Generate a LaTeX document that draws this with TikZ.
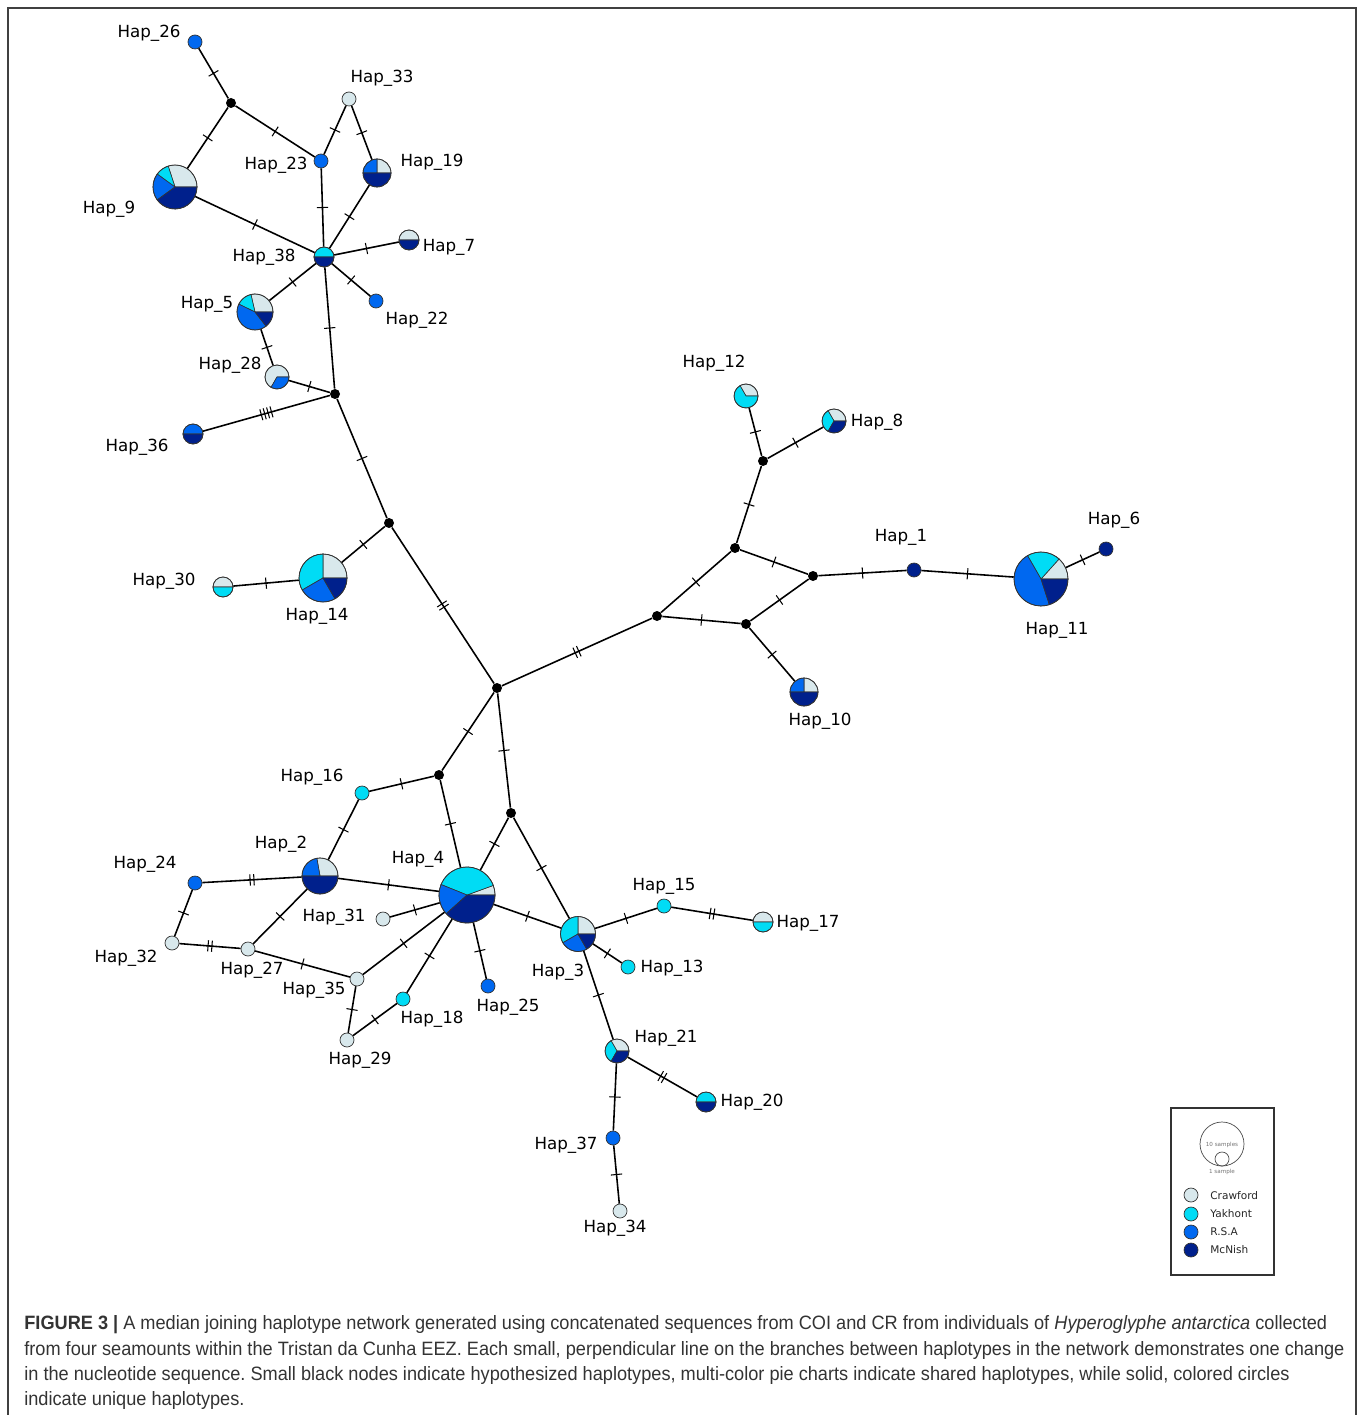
\documentclass[tikz,border=0pt]{standalone}
\usepackage{fontspec}
\setmainfont{DejaVu Sans}
\newfontfamily\capfont[FakeStretch=0.94]{Liberation Sans}
\frenchspacing

\definecolor{crawford}{RGB}{216,232,236}
\definecolor{yakhont}{RGB}{0,220,245}
\definecolor{rsa}{RGB}{0,104,240}
\definecolor{mcnish}{RGB}{0,32,140}
\definecolor{capgray}{RGB}{51,51,51}

% one mutation = one small bar across the branch
\newcommand{\mutbar}{\rule[-3.2pt]{0.6pt}{6.4pt}}
\newcommand{\mutbartwo}{\mutbar\kern1.6pt\mutbar}
\newcommand{\mutbarfour}{\mutbar\kern1.4pt\mutbar\kern1.4pt\mutbar\kern1.4pt\mutbar}

% slice: centre, radius (pt), start, end, colour
\newcommand{\hapslice}[5]{%
  \ifdim #3pt<#4pt
    \filldraw[fill=#5,draw=black!80,line width=0.35pt] (#1) -- ++(#3:#2pt)
      arc[start angle=#3,end angle=#4,radius=#2pt] -- cycle;
  \fi}
% pie: name, centre, radius (px), Crawford|Yakhont|R.S.A|McNish borders
\newcommand{\piehap}[6]{%
  \pgfmathsetmacro\pierad{#3*0.569055}%
  \pgfmathsetmacro\piedia{2*#3*0.569055}%
  \hapslice{#2}{\pierad}{0}{#4}{crawford}%
  \hapslice{#2}{\pierad}{#4}{#5}{yakhont}%
  \hapslice{#2}{\pierad}{#5}{#6}{rsa}%
  \hapslice{#2}{\pierad}{#6}{360}{mcnish}%
  \node[hapring,minimum size=\piedia pt] (#1) at (#2) {};}

\tikzset{
  hapring/.style={circle,draw=black!80,line width=0.4pt,inner sep=0pt},
  single/.style={circle,draw=black!80,line width=0.4pt,fill=#1,inner sep=0pt,minimum size=0.28cm},
  med/.style={circle,fill=black,inner sep=0pt,minimum size=0.2cm},
  hlabel/.style={font=\fontsize{9.5}{11}\selectfont,inner sep=0pt},
  mut/.style={sloped,inner sep=0pt},
  branch/.style={line width=0.9pt},
  capline/.style={anchor=base west,inner sep=0pt,text=capgray,font=\capfont\fontsize{11}{13}\selectfont},
  keytext/.style={anchor=west,inner sep=0pt,font=\fontsize{6}{7}\selectfont,text=black!85}
}

\begin{document}
\begin{tikzpicture}[x=0.02cm,y=-0.02cm]
  \useasboundingbox (0,0) rectangle (1358,1415);
  \draw[black!75,line width=0.8pt] (8,1415) -- (8,8) -- (1356,8) -- (1356,1415);

  % median vectors
  \node[med] (mv1) at (231,103) {};
  \node[med] (mv2) at (335,394) {};
  \node[med] (mv3) at (389,523) {};
  \node[med] (mv4) at (497,688) {};
  \node[med] (mv5) at (657,616) {};
  \node[med] (mv6) at (735,548) {};
  \node[med] (mv7) at (763,461) {};
  \node[med] (mv8) at (813,576) {};
  \node[med] (mv9) at (746,624) {};
  \node[med] (mv10) at (439,775) {};
  \node[med] (mv11) at (511,813) {};

  % shared haplotypes
  \piehap{h9}{175,187}{22}{108}{144}{216}
  \piehap{h19}{377,173}{14}{90}{90}{180}
  \piehap{h38}{324,257}{10}{0}{180}{180}
  \piehap{h7}{409,240}{10}{180}{180}{180}
  \piehap{h5}{255,312}{18}{103}{154}{308}
  \piehap{h28}{277,377}{12}{240}{240}{360}
  \piehap{h36}{193,434}{10}{0}{0}{180}
  \piehap{h30}{223,587}{10}{180}{360}{360}
  \piehap{h14}{323,578}{24}{90}{210}{300}
  \piehap{h12}{746,396}{12}{120}{360}{360}
  \piehap{h8}{834,421}{12}{120}{240}{240}
  \piehap{h10}{804,692}{14}{90}{90}{180}
  \piehap{h11}{1041,579}{27}{48}{120}{288}
  \piehap{h2}{320,876}{18}{100}{100}{180}
  \piehap{h4}{467,895}{28}{20}{158}{222}
  \piehap{h3}{578,934}{17.5}{90}{210}{300}
  \piehap{h17}{763,922}{10}{180}{360}{360}
  \piehap{h21}{617,1051}{12}{120}{240}{240}
  \piehap{h20}{706,1102}{10}{0}{180}{180}

  % unique haplotypes
  \node[single=rsa] (h26) at (195,42) {};
  \node[single=crawford] (h33) at (349,99) {};
  \node[single=rsa] (h23) at (321,161) {};
  \node[single=rsa] (h22) at (376,301) {};
  \node[single=mcnish] (h1) at (914,570) {};
  \node[single=mcnish] (h6) at (1106,549) {};
  \node[single=yakhont] (h16) at (362,793) {};
  \node[single=rsa] (h24) at (195,883) {};
  \node[single=crawford] (h32) at (172,943) {};
  \node[single=crawford] (h27) at (248,949) {};
  \node[single=crawford] (h35) at (357,979) {};
  \node[single=crawford] (h29) at (347,1040) {};
  \node[single=yakhont] (h18) at (403,999) {};
  \node[single=crawford] (h31) at (383,919) {};
  \node[single=rsa] (h25) at (488,986) {};
  \node[single=yakhont] (h15) at (664,906) {};
  \node[single=yakhont] (h13) at (628,967) {};
  \node[single=rsa] (h37) at (613,1138) {};
  \node[single=crawford] (h34) at (620,1211) {};

  % branches
  \begin{scope}[branch]
    \draw (h26) -- node[mut]{\mutbar} (mv1);
    \draw (mv1) -- node[mut]{\mutbar} (h9);
    \draw (mv1) -- node[mut]{\mutbar} (h23);
    \draw (h33) -- node[mut]{\mutbar} (h23);
    \draw (h33) -- node[mut]{\mutbar} (h19);
    \draw (h23) -- node[mut]{\mutbar} (h38);
    \draw (h19) -- node[mut]{\mutbar} (h38);
    \draw (h9) -- node[mut]{\mutbar} (h38);
    \draw (h7) -- node[mut]{\mutbar} (h38);
    \draw (h22) -- node[mut]{\mutbar} (h38);
    \draw (h5) -- node[mut]{\mutbar} (h38);
    \draw (h38) -- node[mut]{\mutbar} (mv2);
    \draw (h5) -- node[mut]{\mutbar} (h28);
    \draw (h28) -- node[mut]{\mutbar} (mv2);
    \draw (h36) -- node[mut]{\mutbarfour} (mv2);
    \draw (mv2) -- node[mut]{\mutbar} (mv3);
    \draw (mv3) -- node[mut]{\mutbar} (h14);
    \draw (h14) -- node[mut]{\mutbar} (h30);
    \draw (mv3) -- node[mut]{\mutbartwo} (mv4);
    \draw (mv4) -- node[mut]{\mutbartwo} (mv5);
    \draw (mv5) -- node[mut]{\mutbar} (mv6);
    \draw (mv5) -- node[mut]{\mutbar} (mv9);
    \draw (mv6) -- node[mut]{\mutbar} (mv7);
    \draw (mv7) -- node[mut]{\mutbar} (h12);
    \draw (mv7) -- node[mut]{\mutbar} (h8);
    \draw (mv6) -- node[mut]{\mutbar} (mv8);
    \draw (mv9) -- node[mut]{\mutbar} (mv8);
    \draw (mv9) -- node[mut]{\mutbar} (h10);
    \draw (mv8) -- node[mut]{\mutbar} (h1);
    \draw (h1) -- node[mut]{\mutbar} (h11);
    \draw (h11) -- node[mut]{\mutbar} (h6);
    \draw (mv4) -- node[mut]{\mutbar} (mv10);
    \draw (mv4) -- node[mut]{\mutbar} (mv11);
    \draw (mv10) -- node[mut]{\mutbar} (h16);
    \draw (mv10) -- node[mut]{\mutbar} (h4);
    \draw (mv11) -- node[mut]{\mutbar} (h4);
    \draw (mv11) -- node[mut]{\mutbar} (h3);
    \draw (h16) -- node[mut]{\mutbar} (h2);
    \draw (h2) -- node[mut]{\mutbar} (h4);
    \draw (h2) -- node[mut]{\mutbartwo} (h24);
    \draw (h2) -- node[mut]{\mutbar} (h27);
    \draw (h24) -- node[mut]{\mutbar} (h32);
    \draw (h32) -- node[mut]{\mutbartwo} (h27);
    \draw (h27) -- node[mut]{\mutbar} (h35);
    \draw (h35) -- node[mut]{\mutbar} (h4);
    \draw (h35) -- node[mut]{\mutbar} (h29);
    \draw (h29) -- node[mut]{\mutbar} (h18);
    \draw (h18) -- node[mut]{\mutbar} (h4);
    \draw (h31) -- node[mut]{\mutbar} (h4);
    \draw (h25) -- node[mut]{\mutbar} (h4);
    \draw (h4) -- node[mut]{\mutbar} (h3);
    \draw (h3) -- node[mut]{\mutbar} (h15);
    \draw (h15) -- node[mut]{\mutbartwo} (h17);
    \draw (h3) -- node[mut]{\mutbar} (h13);
    \draw (h3) -- node[mut]{\mutbar} (h21);
    \draw (h21) -- node[mut]{\mutbartwo} (h20);
    \draw (h21) -- node[mut]{\mutbar} (h37);
    \draw (h37) -- node[mut]{\mutbar} (h34);
  \end{scope}

  % haplotype names
  \node[hlabel] (l26) at (149,33) {Hap\_26};
  \node[hlabel] (l33) at (382,78) {Hap\_33};
  \node[hlabel] (l23) at (276,165) {Hap\_23};
  \node[hlabel] (l19) at (432,162) {Hap\_19};
  \node[hlabel] (l9) at (109,209) {Hap\_9};
  \node[hlabel] (l38) at (264,257) {Hap\_38};
  \node[hlabel] (l7) at (449,247) {Hap\_7};
  \node[hlabel] (l5) at (207,304) {Hap\_5};
  \node[hlabel] (l22) at (417,320) {Hap\_22};
  \node[hlabel] (l28) at (230,365) {Hap\_28};
  \node[hlabel] (l36) at (137,447) {Hap\_36};
  \node[hlabel] (l12) at (714,363) {Hap\_12};
  \node[hlabel] (l8) at (877,422) {Hap\_8};
  \node[hlabel] (l1) at (901,537) {Hap\_1};
  \node[hlabel] (l6) at (1114,520) {Hap\_6};
  \node[hlabel] (l11) at (1057,630) {Hap\_11};
  \node[hlabel] (l10) at (820,721) {Hap\_10};
  \node[hlabel] (l30) at (164,581) {Hap\_30};
  \node[hlabel] (l14) at (317,616) {Hap\_14};
  \node[hlabel] (l16) at (312,777) {Hap\_16};
  \node[hlabel] (l2) at (281,844) {Hap\_2};
  \node[hlabel] (l24) at (145,864) {Hap\_24};
  \node[hlabel] (l4) at (418,859) {Hap\_4};
  \node[hlabel] (l31) at (334,917) {Hap\_31};
  \node[hlabel] (l32) at (126,958) {Hap\_32};
  \node[hlabel] (l27) at (252,970) {Hap\_27};
  \node[hlabel] (l35) at (314,990) {Hap\_35};
  \node[hlabel] (l18) at (432,1019) {Hap\_18};
  \node[hlabel] (l29) at (360,1060) {Hap\_29};
  \node[hlabel] (l25) at (508,1007) {Hap\_25};
  \node[hlabel] (l15) at (664,886) {Hap\_15};
  \node[hlabel] (l17) at (808,923) {Hap\_17};
  \node[hlabel] (l13) at (672,968) {Hap\_13};
  \node[hlabel] (l3) at (558,972) {Hap\_3};
  \node[hlabel] (l21) at (666,1038) {Hap\_21};
  \node[hlabel] (l20) at (752,1102) {Hap\_20};
  \node[hlabel] (l37) at (566,1145) {Hap\_37};
  \node[hlabel] (l34) at (615,1228) {Hap\_34};

  % key
  \draw[black!80,line width=0.6pt] (1171,1108) rectangle (1274,1275);
  \node[hapring,draw=black!70,minimum size=0.88cm] (ten) at (1222,1144) {};
  \node[hapring,draw=black!70,minimum size=0.28cm] (one) at (1222,1159) {};
  \node[inner sep=0pt,font=\fontsize{3.2}{4}\selectfont,text=black!55] (tentxt) at (1222,1145) {10 samples};
  \node[inner sep=0pt,font=\fontsize{3.2}{4}\selectfont,text=black!55] (onetxt) at (1222,1172) {1 sample};
  \node[single=crawford] (kc) at (1191,1195) {};
  \node[single=yakhont] (ky) at (1191,1214) {};
  \node[single=rsa] (kr) at (1191,1232) {};
  \node[single=mcnish] (km) at (1191,1250) {};
  \node[keytext] (kct) at (1210,1196) {Crawford};
  \node[keytext] (kyt) at (1210,1214) {Yakhont};
  \node[keytext] (krt) at (1210,1232) {R.S.A};
  \node[keytext] (kmt) at (1210,1250) {McNish};

  % caption
  \node[capline] (cap1) at (24,1329) {\textbf{FIGURE 3 |} A median joining haplotype network generated using concatenated sequences from COI and CR from individuals of \textit{Hyperoglyphe antarctica} collected};
  \node[capline] (cap2) at (24,1355) {from four seamounts within the Tristan da Cunha EEZ. Each small, perpendicular line on the branches between haplotypes in the network demonstrates one change};
  \node[capline] (cap3) at (24,1380) {in the nucleotide sequence. Small black nodes indicate hypothesized haplotypes, multi-color pie charts indicate shared haplotypes, while solid, colored circles};
  \node[capline] (cap4) at (24,1405) {indicate unique haplotypes.};
\end{tikzpicture}
\end{document}
